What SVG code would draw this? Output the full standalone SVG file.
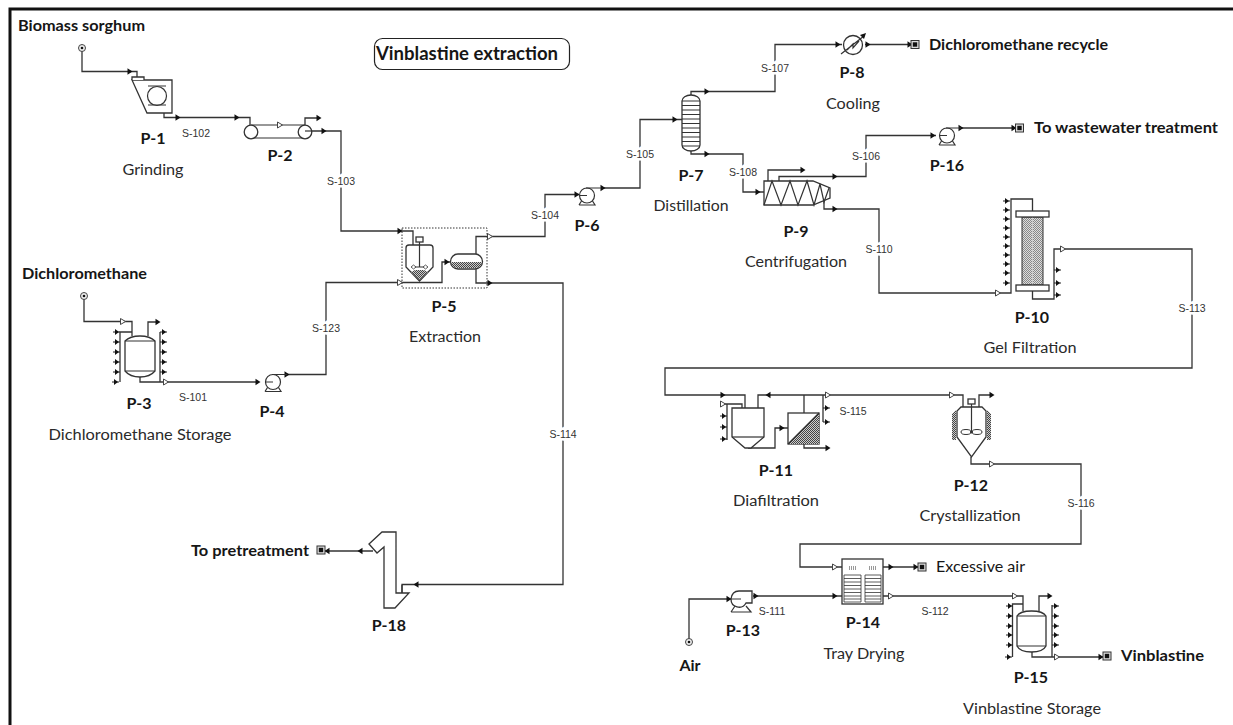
<svg xmlns="http://www.w3.org/2000/svg" width="1233" height="725" viewBox="0 0 1233 725">
<style>
text{font-family:"Lato","Carlito","Noto Sans",sans-serif;fill:#161616}
.b{font-weight:700;font-size:15.5px}
.p{font-weight:700;font-size:16px;text-anchor:middle}
.d{font-size:15.5px;text-anchor:middle;fill:#2a2a2a}
.s{font-family:"Liberation Sans",Arial,sans-serif;font-size:10.5px;fill:#333;text-anchor:middle;paint-order:stroke;stroke:#fff;stroke-width:5px}
.c{fill:none;stroke:#333;stroke-width:1.3}
.e{fill:#fff;stroke:#333;stroke-width:1.3}
.n{fill:none;stroke:#333;stroke-width:1.2}
.k{fill:#111;stroke:none}
.h{fill:url(#dots);stroke:none}
</style>
<defs>
<pattern id="dots" width="2" height="2" patternUnits="userSpaceOnUse"><rect width="2" height="2" fill="#ccc"/><rect width="1" height="1" fill="#444"/><rect x="1" y="1" width="1" height="1" fill="#444"/></pattern>
<pattern id="lite" width="2" height="2" patternUnits="userSpaceOnUse"><rect width="2" height="2" fill="#ddd"/><rect width="1" height="1" fill="#888"/><rect x="1" y="1" width="1" height="1" fill="#888"/></pattern>
<path id="a" d="M-2.5,-3.2L2.5,0L-2.500,3.200Z" fill="#111"/>
<path id="l" d="M2.5,-3.2L-2.5,0L2.500,3.200Z" fill="#111"/>
<path id="o" d="M-2.5,-3L2.5,0L-2.500,3Z" fill="#fff" stroke="#444" stroke-width="1"/>
<g id="st"><path d="M0,0H7" stroke="#222" stroke-width="1" fill="none"/><path d="M2,-3L6,0L2,3Z" fill="#111"/></g>
<g id="t"><rect x="-4" y="-4" width="8" height="8" fill="#ddd" stroke="#333"/><rect x="-2.200" y="-2.200" width="4.400" height="4.400" fill="#111"/></g>
<g id="src"><circle r="3.500" fill="#eee" stroke="#444"/><circle r="1.300" fill="#111"/></g>
<g id="pump"><circle r="7.500" fill="#fff" stroke="#333" stroke-width="1.200"/><path d="M-8,9.500H8L5.500,5.500M-8,9.500L-5.500,5.500M-1,-7.500H14M-7.500,0H0" fill="none" stroke="#333" stroke-width="1.200"/></g>
</defs>
<rect width="1233" height="725" fill="#fff"/>
<path d="M10,725V9H1233" fill="none" stroke="#111" stroke-width="3"/>

<g id="connectors">
<path class="c" d="M82,48V71.500H137V77"/><use href="#a" x="130" y="71.500"/>
<path class="c" d="M164,113V117.500H250V125"/><use href="#a" x="178" y="117.500"/><use href="#a" x="237" y="117.500"/>
<path class="c" d="M305,125V118H318"/><use href="#a" x="319" y="118"/>
<path class="c" d="M305,131H341V231H413V245"/><use href="#a" x="324" y="131"/><use href="#a" x="400" y="231"/>
<path class="c" d="M84,296V321.500H132V336"/><use href="#o" x="123" y="321.500"/>
<path class="c" d="M148,336V322H157"/><use href="#a" x="158" y="322"/>
<path class="c" d="M140,377V382H258"/><use href="#o" x="166" y="382"/><use href="#a" x="258" y="382"/>
<path class="c" d="M287,374.500H326V282.500H442V262H450"/><use href="#a" x="287" y="374.500"/><use href="#o" x="400" y="282.500"/><use href="#a" x="447" y="262"/>
<path class="c" d="M476,254V236.500H545V194.500H579"/><use href="#o" x="490" y="236.500"/><use href="#a" x="577" y="194.500"/>
<path class="c" d="M476,269V283H563V584.500H402V593"/><use href="#a" x="490" y="283"/><use href="#l" x="416" y="584.500"/>
<path class="c" d="M602,188H640V119.500H682"/><use href="#a" x="603" y="188"/><use href="#a" x="675" y="119.500"/>
<path class="c" d="M691,95V91.500H775V44.500H842"/><use href="#a" x="707" y="91.500"/><use href="#a" x="838" y="44.500"/>
<path class="c" d="M865,44.500H911"/><use href="#a" x="868" y="44.500"/><use href="#a" x="910" y="44.500"/>
<path class="c" d="M691,151V154H743V192H764"/><use href="#a" x="707" y="154"/><use href="#a" x="758" y="192"/>
<path class="c" d="M768,181V170H802"/><use href="#a" x="803" y="170"/>
<path class="c" d="M779,181V176.500H866V135.500H936"/><use href="#a" x="835" y="176.500"/><use href="#a" x="933" y="135.500"/>
<path class="c" d="M824,200V209H879V293H1011V199H1032.500V211"/><use href="#a" x="835" y="209"/><use href="#o" x="998" y="293"/>
<path class="c" d="M961,128H1015"/><use href="#a" x="961" y="128"/><use href="#a" x="1014" y="128"/>
<path class="c" d="M1032.500,291V299H1054V249H1192V368H665V395H745V408"/><use href="#o" x="1063" y="249"/><use href="#a" x="723" y="395"/>
<path class="c" d="M723,404H742V408M727,404V440"/><use href="#o" x="723" y="404"/>
<path class="c" d="M758,408V395H953H963V407"/><use href="#l" x="768" y="395"/><use href="#o" x="828" y="395"/><use href="#o" x="952" y="395"/>
<path class="c" d="M804,413V395M823,395V422"/>
<path class="c" d="M748,448H775V428H788"/><use href="#a" x="782" y="428"/>
<path class="c" d="M804,444V448H828"/><use href="#a" x="828" y="448"/>
<path class="c" d="M979,407V395H991"/><use href="#a" x="992" y="395"/>
<path class="c" d="M971,457V464H1081V544H800V567H842"/><use href="#o" x="992" y="464"/><use href="#o" x="835" y="567"/>
<path class="c" d="M689,642V599H731"/><use href="#a" x="729" y="599"/>
<path class="c" d="M753,596H842"/><use href="#a" x="756" y="596"/><use href="#a" x="835" y="596"/>
<path class="c" d="M883,567H918"/><use href="#a" x="891" y="567"/><use href="#a" x="916" y="567"/>
<path class="c" d="M883,596H1023V611"/><use href="#o" x="891" y="596"/><use href="#o" x="1015" y="596"/>
<path class="c" d="M1039,611V596H1049"/><use href="#a" x="1050" y="596"/>
<path class="c" d="M1032,652V657H1103"/><use href="#o" x="1057" y="657"/><use href="#a" x="1101" y="657"/>
<path class="c" d="M373,551H325"/><use href="#l" x="360" y="551"/><use href="#l" x="327" y="551"/>
</g>

<g id="labels">
<text class="s" x="196" y="137">S-102</text>
<text class="s" x="341" y="185">S-103</text>
<text class="s" x="193" y="401">S-101</text>
<text class="s" x="326" y="332">S-123</text>
<text class="s" x="545" y="219">S-104</text>
<text class="s" x="640" y="158">S-105</text>
<text class="s" x="775" y="72">S-107</text>
<text class="s" x="743" y="176">S-108</text>
<text class="s" x="866" y="160">S-106</text>
<text class="s" x="879" y="253">S-110</text>
<text class="s" x="1192" y="312">S-113</text>
<text class="s" x="853" y="415">S-115</text>
<text class="s" x="1081" y="507">S-116</text>
<text class="s" x="563" y="438">S-114</text>
<text class="s" x="772" y="615">S-111</text>
<text class="s" x="935" y="615">S-112</text>
</g>

<g id="P-1">
<path class="e" d="M132,80H172V113H147Z"/><path class="e" d="M132,80V77H144V80"/>
<circle class="n" cx="157" cy="96" r="9.500"/><path class="n" d="M148,86H166M148,105H166"/>
<text class="p" x="153" y="144">P-1</text><text class="d" x="153" y="175" textLength="61" lengthAdjust="spacingAndGlyphs">Grinding</text>
</g>
<g id="P-2">
<path class="n" d="M251,125H305M251,138H305"/><circle class="e" cx="251" cy="132" r="6.800"/><circle class="e" cx="305" cy="132" r="6.800"/><path class="n" d="M305,131H312"/>
<use href="#o" x="280" y="125"/>
<text class="p" x="280" y="161">P-2</text>
</g>
<g id="P-3">
<path class="c" d="M120,382V332H132M160,332V382"/>
<path class="e" d="M125,341Q130,336 140,336Q150,336 155,341V371Q150,377 140,377Q130,377 125,371Z"/><path class="n" d="M125,341H155M125,371H155"/>
<use href="#st" x="113" y="332"/><use href="#st" x="113" y="342"/><use href="#st" x="113" y="352"/><use href="#st" x="113" y="362"/><use href="#st" x="113" y="372"/><use href="#st" x="112" y="382"/>
<use href="#st" x="160" y="332"/><use href="#st" x="160" y="342"/><use href="#st" x="160" y="352"/><use href="#st" x="160" y="362"/><use href="#st" x="160" y="372"/>
<text class="p" x="139" y="409">P-3</text><text class="d" x="140" y="440" textLength="183" lengthAdjust="spacingAndGlyphs">Dichloromethane Storage</text>
</g>
<g id="P-4"><use href="#pump" x="273" y="382"/><text class="p" x="272" y="417">P-4</text></g>
<g id="P-5">
<rect x="402" y="228" width="85" height="60" fill="none" stroke="#333" stroke-width="1" stroke-dasharray="1.500 1.500"/>
<path class="e" d="M406,248Q406,245 409,245H430Q433,245 433,248V267L419.500,281L406,267Z"/>
<path class="h" d="M411,272L415,270H424L428,272L419.500,280Z"/>
<rect class="e" x="416" y="237" width="7" height="5"/><path class="n" d="M419.500,242V267M412,267H427"/>
<path d="M411,267l2.500,-2 2.500,2 -2.500,2ZM423,267l2.500,-2 2.500,2 -2.500,2Z" fill="#fff" stroke="#333" stroke-width=".8"/>
<path class="e" d="M458,254H475A7.500,7.500 0 0 1 475,269H458A7.500,7.500 0 0 1 458,254Z"/>
<path class="h" d="M451,262H482Q481,268 475,268H458Q452,268 451,262Z"/>
<text class="p" x="444" y="312">P-5</text><text class="d" x="445" y="342" textLength="72" lengthAdjust="spacingAndGlyphs">Extraction</text>
</g>
<g id="P-6"><use href="#pump" x="587" y="195.500"/><text class="p" x="587" y="231">P-6</text></g>
<g id="P-7">
<rect class="e" x="682" y="95" width="18" height="56" rx="9" ry="6"/>
<path class="n" d="M682,101H700M682,105.500H700M682,110H700M682,114.500H700M682,119H700M682,123.500H700M682,128H700M682,132.500H700M682,137H700M682,141.500H700M682,146H700"/>
<text class="p" x="691" y="181">P-7</text><text class="d" x="691" y="211" textLength="75" lengthAdjust="spacingAndGlyphs">Distillation</text>
</g>
<g id="P-8">
<circle class="e" cx="853" cy="45" r="9.500"/><path class="n" d="M841,54L864,36M847,50L853,44V48L859,41"/><path class="k" d="M866,33L860,35L864,39Z"/>
<text class="p" x="852" y="78">P-8</text><text class="d" x="853" y="109" textLength="54" lengthAdjust="spacingAndGlyphs">Cooling</text>
</g>
<g id="T-8"><use href="#t" x="915" y="44.500"/><text class="b" x="929" y="50" textLength="179" lengthAdjust="spacingAndGlyphs">Dichloromethane recycle</text></g>
<g id="P-9">
<path class="e" d="M764,181H813L830,188V198L813,205H764Z"/>
<path class="n" d="M764,205L772,181L781,205L790,181L798,205L807,181L814,205L820,184L824,202L829,188"/>
<text class="p" x="796" y="237">P-9</text><text class="d" x="796" y="267" textLength="102" lengthAdjust="spacingAndGlyphs">Centrifugation</text>
</g>
<g id="P-10">
<rect x="1022" y="217" width="21" height="68" fill="url(#lite)" stroke="#333"/><path fill="none" stroke="#ccc" d="M1032.500,217V285"/>
<rect class="e" x="1016" y="211" width="33" height="6"/><rect class="e" x="1016" y="285" width="33" height="6"/>
<use href="#st" x="1003" y="201"/><use href="#st" x="1003" y="210"/><use href="#st" x="1003" y="219"/><use href="#st" x="1003" y="228"/><use href="#st" x="1003" y="237"/><use href="#st" x="1003" y="246"/><use href="#st" x="1003" y="255"/><use href="#st" x="1003" y="264"/><use href="#st" x="1003" y="273"/><use href="#st" x="1003" y="283"/>
<use href="#st" x="1054" y="270"/><use href="#st" x="1054" y="283"/><use href="#st" x="1054" y="295"/>
<text class="p" x="1032" y="323">P-10</text><text class="d" x="1030" y="353" textLength="93" lengthAdjust="spacingAndGlyphs">Gel Filtration</text>
</g>
<g id="P-11">
<use href="#st" x="720" y="416"/><use href="#st" x="720" y="427"/><use href="#st" x="720" y="439"/>
<path class="e" d="M732,408H764V437L751,448H745L732,437Z"/><path class="n" d="M732,437H764"/>
<rect class="e" x="788" y="413" width="31" height="31"/><path class="h" d="M819,413V444H788Z"/><path class="n" d="M819,413L788,444"/>
<use href="#st" x="823" y="408"/><use href="#st" x="823" y="422"/>
<text class="p" x="776" y="476">P-11</text><text class="d" x="776" y="506" textLength="86" lengthAdjust="spacingAndGlyphs">Diafiltration</text>
</g>
<g id="P-12">
<path class="h" d="M952,414L956,410V440H952ZM987,410L991,414V440H987Z"/>
<path class="e" d="M961,407H982L986,411V437L971.500,457L957,437V411Z"/>
<rect class="e" x="968" y="399" width="7" height="5"/><path class="n" d="M971.500,404V432"/>
<ellipse cx="966" cy="432" rx="5" ry="2.500" fill="#fff" stroke="#333"/><ellipse cx="977" cy="432" rx="5" ry="2.500" fill="#fff" stroke="#333"/><circle cx="971.500" cy="432" r="1.500" fill="#333"/>
<text class="p" x="971" y="491">P-12</text><text class="d" x="970" y="521" textLength="101" lengthAdjust="spacingAndGlyphs">Crystallization</text>
</g>
<g id="P-13">
<path class="e" d="M731,599Q732,591 739,591H752V603H746A8,8 0 0 1 731,599Z"/>
<path class="n" d="M731,612H751L746,606M731,612L735,606M731,599H741"/>
<text class="p" x="743" y="636">P-13</text>
</g>
<g id="P-14">
<rect class="e" x="842" y="559" width="41" height="45"/>
<path fill="none" stroke="#333" stroke-width=".8" d="M844,575H861V602H844ZM865,575H881V602H865ZM844,578.500H861M844,582H861M844,585.500H861M844,589H861M844,592.500H861M844,596H861M844,599H861M865,578.500H881M865,582H881M865,585.500H881M865,589H881M865,592.500H881M865,596H881M865,599H881"/>
<path fill="none" stroke="#555" stroke-width="4" stroke-dasharray="1 1" d="M849,568H857M869,568H877" opacity=".6"/>
<text class="p" x="863" y="628">P-14</text><text class="d" x="864" y="659" textLength="81" lengthAdjust="spacingAndGlyphs">Tray Drying</text>
</g>
<g id="P-15">
<path class="c" d="M1012.500,657V604H1023M1052,605V657"/>
<path class="e" d="M1017,616Q1020,611 1031.500,611Q1043,611 1046,616V646Q1043,652 1031.500,652Q1020,652 1017,646Z"/><path class="n" d="M1017,616H1046M1017,646H1046"/>
<use href="#st" x="1006" y="606"/><use href="#st" x="1006" y="616"/><use href="#st" x="1006" y="626"/><use href="#st" x="1006" y="635"/><use href="#st" x="1006" y="645"/><use href="#st" x="1005" y="657"/>
<use href="#st" x="1052" y="606"/><use href="#st" x="1052" y="616"/><use href="#st" x="1052" y="626"/><use href="#st" x="1052" y="635"/><use href="#st" x="1052" y="645"/>
<text class="p" x="1031" y="683">P-15</text><text class="d" x="1032" y="714" textLength="138" lengthAdjust="spacingAndGlyphs">Vinblastine Storage</text>
</g>
<g id="P-16"><use href="#pump" x="947" y="135.500"/><text class="p" x="947" y="171">P-16</text></g>
<g id="T-16"><use href="#t" x="1019.500" y="128"/><text class="b" x="1034" y="133" textLength="184" lengthAdjust="spacingAndGlyphs">To wastewater treatment</text></g>
<g id="P-18">
<path class="e" d="M369,544L382,532H396V593H409L395,608H384V547L377,553Z"/>
<path class="n" d="M402,585V593"/>
<text class="p" x="389" y="631">P-18</text>
</g>
<g id="T-18"><use href="#t" x="321" y="550"/><text class="b" x="191" y="556" textLength="118" lengthAdjust="spacingAndGlyphs">To pretreatment</text></g>
<g id="S-1"><use href="#src" x="82" y="48"/><text class="b" x="18" y="31" textLength="127" lengthAdjust="spacingAndGlyphs">Biomass sorghum</text></g>
<g id="S-2"><use href="#src" x="84" y="296"/><text class="b" x="22" y="279" textLength="125" lengthAdjust="spacingAndGlyphs">Dichloromethane</text></g>
<g id="S-3"><use href="#src" x="689" y="642"/><text class="p" x="690" y="671">Air</text></g>
<g id="T-14"><use href="#t" x="922" y="567"/><text x="936" y="572" font-size="15.500" textLength="89" lengthAdjust="spacingAndGlyphs">Excessive air</text></g>
<g id="T-15"><use href="#t" x="1107" y="656"/><text class="b" x="1121" y="661" textLength="83" lengthAdjust="spacingAndGlyphs">Vinblastine</text></g>
<g id="title"><rect x="374.500" y="38.500" width="195" height="31" rx="8" fill="#fff" stroke="#222" stroke-width="1.200"/><text x="376" y="60" font-size="18" font-weight="700" textLength="182" lengthAdjust="spacingAndGlyphs">Vinblastine extraction</text></g>
</svg>
